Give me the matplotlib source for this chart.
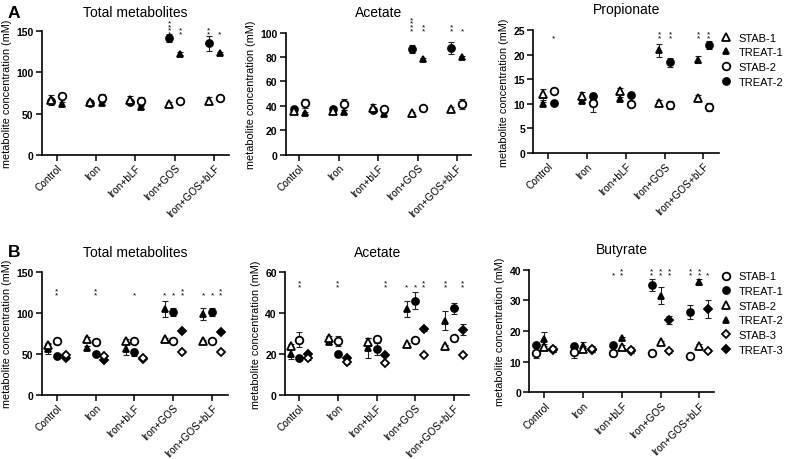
import matplotlib
matplotlib.use('Agg')
import matplotlib.pyplot as plt
from matplotlib.lines import Line2D

plt.rcParams['font.family'] = ['Liberation Sans', 'DejaVu Sans']

W, H = 787, 460

categories = ['Control', 'Iron', 'Iron+bLF', 'Iron+GOS', 'Iron+GOS+bLF']

# panel A: series order STAB-1, TREAT-1, STAB-2, TREAT-2
series_a = ['STAB-1', 'TREAT-1', 'STAB-2', 'TREAT-2']

a_total_mean = [
    [66.5, 64.4, 66.9, 62.0, 65.7],
    [61.6, 62.5, 57.6, 122.8, 123.6],
    [71.3, 69.3, 65.3, 65.7, 69.3],
    [65.0, 63.0, 63.7, 141.8, 135.4],
]
a_total_err = [
    [6, 2, 5, 2, 4],
    [2, 2, 2, 2, 1.5],
    [2, 5, 5, 2, 2],
    [2, 2, 2, 5, 9],
]
a_total_stars = [(3, 3, 4), (3, 2, 2), (4, 3, 2), (4, 2, 1)]

a_acetate_mean = [
    [36.0, 36.2, 38.5, 33.9, 37.4],
    [34.2, 35.3, 33.4, 78.1, 79.8],
    [42.1, 41.3, 37.5, 38.5, 41.3],
    [37.3, 37.3, 36.6, 86.8, 87.5],
]
a_acetate_err = [
    [1, 1, 3, 1, 2],
    [1, 1, 1, 1.5, 1.5],
    [3.5, 4.5, 2, 1, 4],
    [1, 1, 1, 3.5, 5],
]
a_acetate_stars = [(3, 3, 4), (3, 2, 2), (4, 3, 2), (4, 2, 1)]

a_prop_mean = [
    [11.9, 11.5, 12.7, 10.2, 11.2],
    [10.0, 10.6, 11.0, 20.9, 19.0],
    [12.7, 10.2, 10.0, 9.8, 9.3],
    [10.1, 11.6, 11.7, 18.4, 22.0],
]
a_prop_err = [
    [1.2, 0.8, 0.5, 0.5, 0.5],
    [0.3, 0.3, 0.3, 1.3, 0.7],
    [0.6, 1.8, 0.4, 0.8, 0.8],
    [0.3, 0.6, 0.3, 0.9, 0.8],
]
a_prop_stars = [(0, 3, 1), (3, 1, 2), (3, 3, 2), (4, 1, 2), (4, 3, 2)]

# panel B: series order STAB-1, TREAT-1, STAB-2, TREAT-2, STAB-3, TREAT-3
series_b = ['STAB-1', 'TREAT-1', 'STAB-2', 'TREAT-2', 'STAB-3', 'TREAT-3']

b_total_mean = [
    [65.5, 63.9, 65.5, 65.5, 65.5],
    [47.6, 50.0, 51.7, 101.3, 101.3],
    [60.6, 67.9, 65.5, 67.9, 65.5],
    [55.7, 57.3, 56.1, 104.5, 98.4],
    [48.8, 46.8, 44.4, 51.7, 51.7],
    [45.1, 42.3, 44.0, 77.7, 76.1],
]
b_total_err = [
    [2, 2, 2, 2, 2],
    [1, 1, 4, 5, 5],
    [2, 2, 2, 1, 1],
    [6, 2, 8, 10, 7],
    [1, 1, 1, 1, 1],
    [1, 1, 1, 1, 1],
]
b_total_stars = [(0, 1, 2), (1, 1, 2), (2, 1, 1), (3, 3, 1), (3, 1, 1),
                 (3, 5, 2), (4, 3, 1), (4, 1, 1), (4, 5, 2)]

b_acetate_mean = [
    [27.0, 26.3, 27.3, 27.0, 27.8],
    [17.8, 19.8, 22.4, 46.1, 42.3],
    [24.0, 27.6, 25.7, 24.9, 24.0],
    [19.8, 26.0, 22.7, 42.0, 36.3],
    [17.8, 16.2, 15.7, 19.6, 19.3],
    [20.1, 17.8, 19.6, 32.4, 31.9],
]
b_acetate_err = [
    [3.5, 2.5, 1, 1.5, 1],
    [0.5, 0.5, 3, 4.3, 2.5],
    [1, 1, 2, 0.5, 0.5],
    [2.5, 1, 4.9, 4, 4.6],
    [1, 1, 0.5, 0.5, 0.5],
    [0.5, 0.5, 0.5, 1, 2.8],
]
b_acetate_stars = [(0, 1, 2), (1, 1, 2), (2, 5, 2), (3, 3, 1), (3, 1, 1),
                   (3, 5, 2), (4, 3, 2), (4, 5, 2)]

b_butyrate_mean = [
    [12.9, 13.0, 12.8, 12.7, 12.0],
    [15.5, 15.2, 15.5, 35.0, 26.1],
    [14.8, 14.1, 14.8, 16.3, 15.2],
    [17.5, 15.0, 17.7, 31.5, 35.9],
    [14.0, 14.1, 13.7, 13.4, 13.5],
    [13.8, 13.8, 13.5, 23.6, 27.2],
]
b_butyrate_err = [
    [1.8, 1.8, 0.5, 0.5, 0.5],
    [0.5, 0.5, 0.5, 1.9, 2.3],
    [1, 1, 0.5, 0.5, 0.5],
    [2.3, 1.3, 0.5, 2.8, 1],
    [1, 1, 1, 0.5, 0.5],
    [0.5, 0.5, 0.5, 1.2, 3],
]
b_butyrate_stars = [(2, 0, 1), (2, 2, 2), (3, 0, 2), (3, 2, 2), (3, 4, 2),
                    (4, 0, 2), (4, 2, 2), (4, 4, 1)]

# marker look per series name
STYLE_A = {
    'STAB-1': ('^', False, 5.5),
    'TREAT-1': ('^', True, 4.5),
    'STAB-2': ('o', False, 5.5),
    'TREAT-2': ('o', True, 5.0),
}
STYLE_B = {
    'STAB-1': ('o', False, 5.5),
    'TREAT-1': ('o', True, 5.0),
    'STAB-2': ('^', False, 5.5),
    'TREAT-2': ('^', True, 4.5),
    'STAB-3': ('D', False, 4.2),
    'TREAT-3': ('D', True, 3.8),
}


def box(l, r, t, b):
    return [l / W, 1 - b / H, (r - l) / W, (b - t) / H]


def draw_panel(ax, means, errs, names, styles, slots, offset, stars, star_y,
               ymax, ystep, xlim, title, title_y):
    for i, name in enumerate(names):
        marker, filled, ms = styles[name]
        xs = [c + slots[i] * offset for c in range(len(categories))]
        ax.errorbar(xs, means[i], yerr=errs[i], fmt='none', ecolor='#222222',
                    elinewidth=0.8, capsize=2.2, capthick=0.8, zorder=2)
        ax.plot(xs, means[i], linestyle='none', marker=marker, markersize=ms,
                markerfacecolor='black' if filled else 'white',
                markeredgecolor='black', markeredgewidth=1.3,
                zorder=3 if filled else 4)
    # significance asterisks, stacked vertically
    for cat, series_idx, n in stars:
        x = cat + slots[series_idx] * offset
        for k in range(n):
            ax.annotate('*', (x, star_y), xytext=(0, k * 2.7 - 3.6),
                        textcoords='offset points', ha='center', va='baseline',
                        fontsize=6, annotation_clip=False)
    ax.set_xlim(*xlim)
    ax.set_ylim(0, ymax)
    ax.set_yticks([v * ystep for v in range(int(round(ymax / ystep)) + 1)])
    ax.set_xticks(range(len(categories)))
    ax.set_xticklabels(categories, rotation=45, ha='right', rotation_mode='anchor',
                       fontsize=7.3)
    for lab in ax.get_yticklabels():
        lab.set_fontweight('bold')
        lab.set_fontsize(7.5)
    ax.tick_params(axis='both', direction='out', length=4, width=1.1, pad=2)
    ax.tick_params(axis='x', pad=1.5)
    ax.spines['top'].set_visible(False)
    ax.spines['right'].set_visible(False)
    ax.spines['left'].set_linewidth(1.2)
    ax.spines['bottom'].set_linewidth(1.2)
    ax.set_ylabel('metabolite concentration (mM)', fontsize=7.8, labelpad=3)
    pos = ax.get_position()
    ax.figure.text(pos.x0 + pos.width / 2, 1 - title_y / H, title, ha='center',
                   va='center', fontsize=10)


fig = plt.figure(figsize=(W / 100, H / 100), dpi=100)

slots_a_swap = [-1, 1, 1, -1]
slots_a_prop = [-1, -1, 1, 1]
slots_b_main = [0, 0, -1, -1, 1, 1]
slots_b_buty = [-1, -1, 0, 0, 1, 1]

ax1 = fig.add_axes(box(41.7, 229, 32.3, 155.7))
draw_panel(ax1, a_total_mean, a_total_err, series_a, STYLE_A, slots_a_swap, 0.14,
           a_total_stars, 151, 150, 50, (-0.38, 4.38), 'Total metabolites', 13.3)
ax2 = fig.add_axes(box(285.7, 470.7, 33.7, 155.7))
draw_panel(ax2, a_acetate_mean, a_acetate_err, series_a, STYLE_A, slots_a_swap, 0.14,
           a_acetate_stars, 104.5, 100, 20, (-0.345, 4.35), 'Acetate', 13.3)
ax3 = fig.add_axes(box(533.3, 719, 31, 154))
draw_panel(ax3, a_prop_mean, a_prop_err, series_a, STYLE_A, slots_a_prop, 0.14,
           a_prop_stars, 24.2, 25, 5, (-0.387, 4.4), 'Propionate', 10)

ax4 = fig.add_axes(box(41.7, 228, 272.7, 395.7))
draw_panel(ax4, b_total_mean, b_total_err, series_b, STYLE_B, slots_b_main, 0.225,
           b_total_stars, 126.5, 150, 50, (-0.39, 4.41), 'Total metabolites', 252.7)
ax5 = fig.add_axes(box(285, 469.3, 273.3, 395.7))
draw_panel(ax5, b_acetate_mean, b_acetate_err, series_b, STYLE_B, slots_b_main, 0.225,
           b_acetate_stars, 54.6, 60, 20, (-0.37, 4.4), 'Acetate', 253.3)
ax6 = fig.add_axes(box(529.3, 714.3, 270.7, 393.3))
draw_panel(ax6, b_butyrate_mean, b_butyrate_err, series_b, STYLE_B, slots_b_buty, 0.225,
           b_butyrate_stars, 39.4, 40, 10, (-0.39, 4.39), 'Butyrate', 250)


def legend_handles(names, styles):
    hs = []
    for name in names:
        marker, filled, ms = styles[name]
        hs.append(Line2D([], [], linestyle='none', marker=marker, markersize=ms,
                         markerfacecolor='black' if filled else 'white',
                         markeredgecolor='black', markeredgewidth=1.3, label=name))
    return hs


fig.legend(handles=legend_handles(series_a, STYLE_A), loc='upper left',
           bbox_to_anchor=(720 / W, 1 - 33.5 / H), frameon=False, fontsize=8,
           handlelength=1.0, handletextpad=0.7, labelspacing=0.42, borderpad=0,
           borderaxespad=0)
fig.legend(handles=legend_handles(series_b, STYLE_B), loc='upper left',
           bbox_to_anchor=(720 / W, 1 - 272.5 / H), frameon=False, fontsize=8,
           handlelength=1.0, handletextpad=0.7, labelspacing=0.42, borderpad=0,
           borderaxespad=0)

fig.text(8 / W, 1 - 13.3 / H, 'A', fontsize=12.5, fontweight='bold', va='center', ha='left')
fig.text(8 / W, 1 - 252.7 / H, 'B', fontsize=12.5, fontweight='bold', va='center', ha='left')

fig.savefig('out.png', dpi=100)
